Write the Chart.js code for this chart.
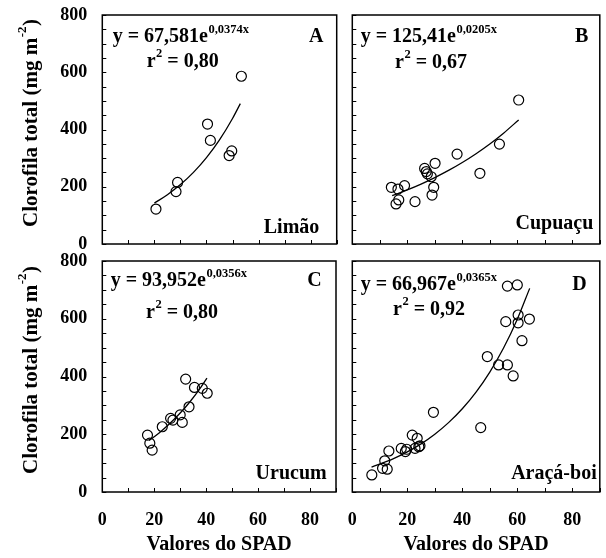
<!DOCTYPE html>
<html><head><meta charset="utf-8">
<script src="https://cdn.jsdelivr.net/npm/chart.js@4.4.1/dist/chart.umd.min.js"></script>
<style>
html,body{margin:0;padding:0;background:#fff;}
#wrap{position:relative;width:606px;height:558px;overflow:hidden;background:#fff;}
canvas{position:absolute;}
</style></head><body>
<div id="wrap">
<canvas id="cA"></canvas>
<canvas id="cB"></canvas>
<canvas id="cC"></canvas>
<canvas id="cD"></canvas>
</div>
<script>
// ---- tick labels ----
const yTickLabels = [0, 200, 400, 600, 800];
const xTickLabels = [0, 20, 40, 60, 80];

// ---- Panel A: Limão ----
const limaoSpad = [20.6, 28.3, 28.9, 40.4, 41.5, 48.7, 49.7, 53.4];
const limaoChl  = [122, 183, 215, 419, 362, 309, 325, 586];
const limaoFitSpad = [20, 25, 30, 35, 40, 45, 50, 53];
const limaoFitChl  = [142.8, 172.1, 207.5, 250.2, 301.7, 363.7, 438.5, 490.5];

// ---- Panel B: Cupuaçu ----
const cupuacuSpad = [14.2, 16.6, 15.9, 16.9, 19.0, 22.8, 26.3, 26.9, 27.3, 28.7, 30.1, 29.6, 29.0, 38.1, 46.4, 53.5, 60.5];
const cupuacuChl  = [198, 192, 140, 154, 204, 148, 264, 253, 245, 235, 282, 198, 171, 314, 247, 349, 503];
const cupuacuFitSpad = [14.5, 20, 25, 30, 35, 40, 45, 50, 55, 60.5];
const cupuacuFitChl  = [168.8, 189.0, 209.4, 232.0, 257.0, 284.7, 315.5, 349.5, 387.3, 433.5];

// ---- Panel C: Urucum ----
const urucumSpad = [17.4, 18.3, 19.2, 23.1, 26.3, 27.2, 30.0, 30.8, 33.4, 32.1, 35.5, 38.5, 40.4];
const urucumChl  = [197, 169, 145, 226, 255, 249, 267, 241, 295, 391, 362, 359, 342];
const urucumFitSpad = [18, 22, 26, 30, 34, 38, 40.3];
const urucumFitChl  = [178.3, 205.6, 237.1, 273.4, 315.2, 363.4, 394.5];

// ---- Panel D: Araçá-boi ----
const aracaSpad = [7.1, 11.0, 12.7, 11.8, 13.3, 17.8, 19.3, 19.8, 21.8, 23.6, 22.8, 24.2, 24.6, 29.5, 46.7, 49.1, 53.2, 56.4, 58.5, 56.4, 60.0, 55.8, 60.3, 60.3, 64.4, 61.7];
const aracaChl  = [59, 82, 79, 108, 142, 151, 140, 148, 197, 186, 151, 157, 160, 276, 223, 469, 440, 440, 402, 713, 717, 590, 613, 586, 599, 524];
const aracaFitSpad = [7, 15, 20, 25, 30, 35, 40, 45, 50, 55, 60, 64.5];
const aracaFitChl  = [86.5, 115.8, 139.0, 166.8, 200.2, 240.3, 288.4, 346.1, 415.4, 498.5, 598.4, 705.2];

// ---- text ----
const yTitleMain = 'Clorofila total (mg m';
const yTitleSup = '-2';
const yTitleEnd = ')';
const xTitle = 'Valores do SPAD';

const FAMILY = '"Liberation Serif", "Times New Roman", Times, serif';
Chart.defaults.font.family = FAMILY;
Chart.defaults.font.weight = 'bold';
Chart.defaults.color = '#000';

function pts(xs, ys) { return xs.map((x, i) => ({x: x, y: ys[i]})); }

const framePlugin = {
  id: 'frame',
  afterDraw(chart) {
    const a = chart.chartArea, ctx = chart.ctx;
    const sx = chart.scales.x, sy = chart.scales.y;
    ctx.save();
    ctx.strokeStyle = '#000';
    ctx.lineWidth = 1;
    ctx.beginPath();
    sx.ticks.forEach(t => {
      const px = Math.round(sx.getPixelForValue(t.value)) + 0.5;
      ctx.moveTo(px, a.bottom); ctx.lineTo(px, a.bottom - 4);
    });
    sy.ticks.forEach(t => {
      const py = Math.round(sy.getPixelForValue(t.value)) + 0.5;
      ctx.moveTo(a.left, py); ctx.lineTo(a.left + 4, py);
    });
    ctx.stroke();
    ctx.lineWidth = 1.5;
    ctx.strokeRect(a.left, a.top, a.right - a.left, a.bottom - a.top);
    ctx.restore();
  }
};

function drawSup(ctx, x, base, main, sup, mainSize, supSize, supRise) {
  ctx.font = 'bold ' + mainSize + 'px ' + FAMILY;
  ctx.fillText(main, x, base);
  const w = ctx.measureText(main).width;
  ctx.font = 'bold ' + supSize + 'px ' + FAMILY;
  ctx.fillText(sup, x + w + 0.5, base - supRise);
  return x + w + 0.5 + ctx.measureText(sup).width;
}

function makeTextPlugin(spec, pos) {
  return {
    id: 'texts',
    afterDraw(chart) {
      const ctx = chart.ctx;
      ctx.save();
      ctx.fillStyle = '#000';
      ctx.textBaseline = 'alphabetic';
      ctx.textAlign = 'left';
      const e = spec.eq;
      drawSup(ctx, e.x - pos.x, e.base - pos.y, e.main, e.exp, 20, 12.5, 9);
      const r = spec.r2;
      const xe = drawSup(ctx, r.x - pos.x, r.base - pos.y, 'r', '2', 20, 12.5, 10);
      ctx.font = 'bold 20px ' + FAMILY;
      ctx.fillText(' = ' + r.value, xe, r.base - pos.y);
      ctx.textAlign = 'right';
      ctx.fillText(spec.letter.text, spec.letter.x - pos.x, spec.letter.base - pos.y);
      ctx.fillText(spec.name.text, spec.name.x - pos.x, spec.name.base - pos.y);
      if (spec.yTitle) {
        ctx.translate(spec.yTitle.x - pos.x, spec.yTitle.cy - pos.y);
        ctx.rotate(-Math.PI / 2);
        ctx.textAlign = 'left';
        ctx.font = 'bold 21px ' + FAMILY;
        const w1 = ctx.measureText(yTitleMain).width;
        const w3 = ctx.measureText(yTitleEnd).width;
        ctx.font = 'bold 13px ' + FAMILY;
        const w2 = ctx.measureText(yTitleSup).width;
        let x0 = -(w1 + w2 + w3 + 1) / 2;
        ctx.font = 'bold 21px ' + FAMILY;
        ctx.fillText(yTitleMain, x0, 0);
        ctx.font = 'bold 13px ' + FAMILY;
        ctx.fillText(yTitleSup, x0 + w1 + 0.5, -11);
        ctx.font = 'bold 21px ' + FAMILY;
        ctx.fillText(yTitleEnd, x0 + w1 + w2 + 1, 0);
      }
      ctx.restore();
    }
  };
}

function makePanel(id, pos, area, showX, showY, scatter, fit, spec) {
  const c = document.getElementById(id);
  c.width = pos.w; c.height = pos.h;
  c.style.left = pos.x + 'px'; c.style.top = pos.y + 'px';
  c.style.width = pos.w + 'px'; c.style.height = pos.h + 'px';
  const ar = {left: area.left - pos.x, right: area.right - pos.x, top: area.top - pos.y, bottom: area.bottom - pos.y};
  new Chart(c, {
    type: 'scatter',
    data: {
      datasets: [
        {type: 'line', data: fit, borderColor: '#000', borderWidth: 1.3, pointRadius: 0, fill: false,
         cubicInterpolationMode: 'monotone', order: 2},
        {type: 'scatter', data: scatter, pointStyle: 'circle', pointRadius: 5, borderColor: '#000',
         borderWidth: 1.2, backgroundColor: 'rgba(0,0,0,0)', order: 1}
      ]
    },
    options: {
      responsive: false, animation: false, devicePixelRatio: 1,
      layout: {padding: {left: 0, top: ar.top, right: pos.w - ar.right, bottom: 0}},
      plugins: {legend: {display: false}, tooltip: {enabled: false}},
      scales: {
        x: {
          type: 'linear', position: 'bottom', min: 0, max: 90,
          afterFit: s => { s.height = pos.h - ar.bottom; s.paddingLeft = 0; s.paddingRight = 0; s.paddingTop = 0; s.paddingBottom = 0; },
          ticks: {stepSize: 10, autoSkip: false, maxRotation: 0, display: showX, padding: 17.5, color: '#000',
                  font: {size: 18, weight: 'bold'},
                  callback: v => xTickLabels.includes(v) ? String(v) : ''},
          grid: {display: false, drawOnChartArea: false, drawTicks: false},
          border: {display: false},
          title: {display: showX, text: xTitle, color: '#000', font: {size: 20, weight: 'bold'}, padding: {top: 0, bottom: 1}}
        },
        y: {
          type: 'linear', position: 'left', min: 0, max: 800,
          afterFit: s => { s.width = ar.left; s.paddingLeft = 0; s.paddingRight = 0; s.paddingTop = 0; s.paddingBottom = 0; },
          ticks: {stepSize: 50, autoSkip: false, display: showY, padding: 15, color: '#000',
                  font: {size: 18, weight: 'bold'},
                  callback: v => yTickLabels.includes(v) ? String(v) : ''},
          grid: {display: false, drawOnChartArea: false, drawTicks: false},
          border: {display: false}
        }
      }
    },
    plugins: [framePlugin, makeTextPlugin(spec, pos)]
  });
}

makePanel('cA', {x: 0, y: 0, w: 345, h: 252}, {left: 102.3, right: 336.7, top: 15, bottom: 244}, false, true,
  pts(limaoSpad, limaoChl), pts(limaoFitSpad, limaoFitChl),
  {eq: {x: 112.7, base: 41.7, main: 'y = 67,581e', exp: '0,0374x'},
   r2: {x: 146.7, base: 66.7, value: '0,80'},
   letter: {text: 'A', x: 323.5, base: 41.7},
   name: {text: 'Limão', x: 319.3, base: 233},
   yTitle: {x: 37, cy: 123}});

makePanel('cB', {x: 345, y: 0, w: 261, h: 252}, {left: 352.3, right: 605, top: 15, bottom: 244}, false, false,
  pts(cupuacuSpad, cupuacuChl), pts(cupuacuFitSpad, cupuacuFitChl),
  {eq: {x: 360.7, base: 41.7, main: 'y = 125,41e', exp: '0,0205x'},
   r2: {x: 395, base: 68, value: '0,67'},
   letter: {text: 'B', x: 588.3, base: 41.7},
   name: {text: 'Cupuaçu', x: 593.3, base: 229}});

makePanel('cC', {x: 0, y: 252, w: 345, h: 306}, {left: 102.3, right: 336, top: 261, bottom: 492}, true, true,
  pts(urucumSpad, urucumChl), pts(urucumFitSpad, urucumFitChl),
  {eq: {x: 110.7, base: 286, main: 'y = 93,952e', exp: '0,0356x'},
   r2: {x: 146, base: 318.3, value: '0,80'},
   letter: {text: 'C', x: 321.7, base: 286},
   name: {text: 'Urucum', x: 326.7, base: 479},
   yTitle: {x: 37, cy: 370}});

makePanel('cD', {x: 345, y: 252, w: 261, h: 306}, {left: 352.3, right: 605, top: 261, bottom: 492}, true, false,
  pts(aracaSpad, aracaChl), pts(aracaFitSpad, aracaFitChl),
  {eq: {x: 360.7, base: 290, main: 'y = 66,967e', exp: '0,0365x'},
   r2: {x: 393, base: 315, value: '0,92'},
   letter: {text: 'D', x: 586.7, base: 290},
   name: {text: 'Araçá-boi', x: 596.7, base: 479}});
</script>
</body></html>
